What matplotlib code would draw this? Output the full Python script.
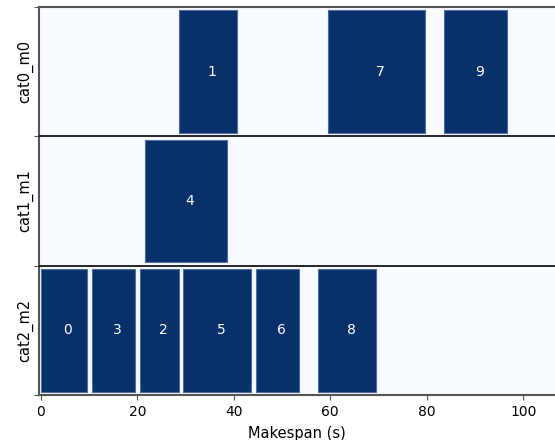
import matplotlib
matplotlib.use("Agg")
import matplotlib.pyplot as plt

# Data
machines = ["cat0_m0", "cat1_m1", "cat2_m2"]
job_ids = [1, 7, 9, 4, 0, 3, 2, 5, 6, 8]
job_rows = [0, 0, 0, 1, 2, 2, 2, 2, 2, 2]
job_starts = [28.6, 59.6, 83.6, 21.6, 0.0, 10.5, 20.5, 29.5, 44.5, 57.5]
job_ends = [40.6, 79.6, 96.6, 38.6, 9.6, 19.6, 28.6, 43.5, 53.6, 69.5]
x_ticks = [0, 20, 40, 60, 80, 100]

BG = "#f7fbff"
BAR = "#08306b"
SPINE = "#555555"

fig = plt.figure(figsize=(5.55, 4.40), dpi=100)
ax = fig.add_axes([39 / 555, 1 - 395 / 440, 516 / 555, (395 - 7) / 440])
ax.set_facecolor(BG)

n = len(machines)
for jid, r, s, e in zip(job_ids, job_rows, job_starts, job_ends):
    ax.barh(r + 0.5, e - s, left=s, height=0.95, color=BAR,
            edgecolor="#4f6e9e", linewidth=0.8, zorder=2)
    ax.text((s + e) / 2 + 0.8, r + 0.5, str(jid), color="white", ha="center",
            va="center", fontsize=10, zorder=3)

for b in range(1, n):
    ax.axhline(b, color="black", linewidth=1.2, zorder=4)

ax.set_ylim(n, 0)
ax.set_xlim(-0.4, -0.4 + 516 / 4.823)

ax.set_yticks(range(n + 1))
ax.set_yticklabels([""] * (n + 1))
ax.set_yticks([i + 0.5 for i in range(n)], minor=True)
ax.set_yticklabels(machines, minor=True, rotation=90, va="center", fontsize=10.5)
ax.tick_params(axis="y", which="minor", length=0, pad=4)
ax.tick_params(axis="y", which="major", length=3.5, color=SPINE)

ax.set_xticks(x_ticks)
ax.tick_params(axis="x", length=3.5, color=SPINE, labelsize=10)
ax.set_xlabel("Makespan (s)", fontsize=10.5, labelpad=5)

for side in ["left", "top", "bottom"]:
    ax.spines[side].set_color(SPINE)
    ax.spines[side].set_linewidth(1.5)
ax.spines["right"].set_visible(False)

fig.savefig("out.png", dpi=100)
